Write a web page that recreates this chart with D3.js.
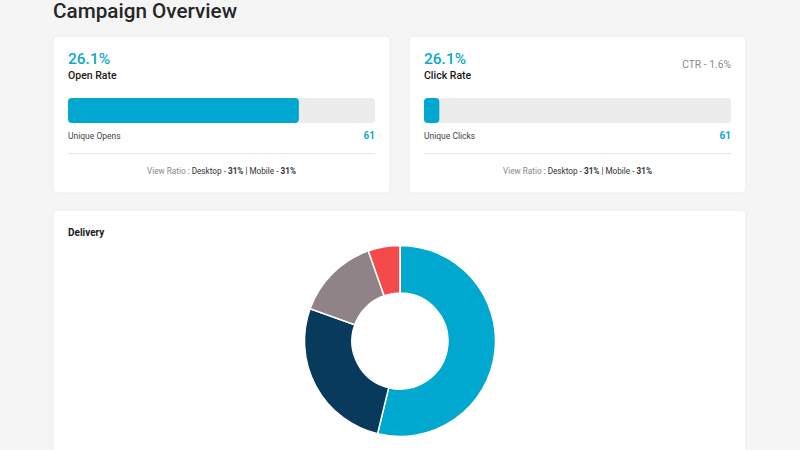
<!DOCTYPE html>
<html>
<head>
<meta charset="utf-8">
<script src="https://cdn.jsdelivr.net/npm/d3@7"></script>
<style>
  body { margin: 0; background: #f5f5f5; font-family: Roboto, "Noto Sans", sans-serif; }
</style>
</head>
<body>
<div id="chart"></div>
<script>
// card data
var cardTitles = ["Open Rate", "Click Rate"];
var cardRates = ["26.1%", "26.1%"];
var cardBars = [75.2, 5.0];          // % of bar filled
var cardCountLabels = ["Unique Opens", "Unique Clicks"];
var cardCounts = [61, 61];
var cardExtra = ["", "CTR - 1.6%"];
var desktopRatio = ["31%", "31%"];
var mobileRatio = ["31%", "31%"];

// delivery donut
var deliveryLabels = ["Delivered", "Bounced", "Deferred", "Failed"];
var deliveryValues = [54, 26.8, 14.2, 5.4];
var deliveryColors = ["#00a8cf", "#073a5b", "#8f8388", "#f44a4a"];

var width = 800, height = 450;

var svg = d3.select("#chart").append("svg")
  .attr("width", width)
  .attr("height", height)
  .style("display", "block");

svg.append("rect").attr("width", width).attr("height", height).attr("fill", "#f5f5f5");

svg.append("text")
  .attr("x", 53).attr("y", 18)
  .attr("font-size", 20.7)
  .attr("font-weight", 500)
  .attr("fill", "#262626")
  .text("Campaign Overview");

var cardW = 337, cardH = 157;
var cardX = [53, 409];

var barScale = d3.scaleLinear().domain([0, 100]).range([0, 307]);

cardTitles.forEach(function(t, i) {
  var g = svg.append("g").attr("transform", `translate(${cardX[i]}, 36)`);

  g.append("rect")
    .attr("width", cardW).attr("height", cardH)
    .attr("rx", 4)
    .attr("fill", "#fff")
    .attr("stroke", "#ececec");

  g.append("text")
    .attr("x", 15).attr("y", 28)
    .attr("font-size", 15.5).attr("font-weight", 500)
    .attr("fill", "#0ea7cc")
    .text(cardRates[i]);

  g.append("text")
    .attr("x", 15).attr("y", 43)
    .attr("font-size", 10.5).attr("font-weight", 500)
    .attr("fill", "#1a1a1a")
    .text(t);

  if (cardExtra[i]) {
    g.append("text")
      .attr("x", 322).attr("y", 32)
      .attr("text-anchor", "end")
      .attr("font-size", 10.3)
      .attr("fill", "#8a8a8a")
      .text(cardExtra[i]);
  }

  // progress bar
  g.append("rect")
    .attr("x", 15).attr("y", 62)
    .attr("width", barScale(100)).attr("height", 25)
    .attr("rx", 4)
    .attr("fill", "#ececec");
  g.append("rect")
    .attr("x", 15).attr("y", 62)
    .attr("width", barScale(cardBars[i])).attr("height", 25)
    .attr("rx", 4)
    .attr("fill", "#00a8cf");

  g.append("text")
    .attr("x", 15).attr("y", 103)
    .attr("font-size", 8.5)
    .attr("fill", "#444")
    .text(cardCountLabels[i]);

  g.append("text")
    .attr("x", 322).attr("y", 103)
    .attr("text-anchor", "end")
    .attr("font-size", 10).attr("font-weight", 700)
    .attr("fill", "#0ea7cc")
    .text(cardCounts[i]);

  g.append("line")
    .attr("x1", 15).attr("x2", 322)
    .attr("y1", 117.5).attr("y2", 117.5)
    .attr("stroke", "#e6e6e6");

  var vr = g.append("text")
    .attr("x", cardW / 2).attr("y", 138)
    .attr("text-anchor", "middle")
    .attr("font-size", 8.2)
    .attr("fill", "#333");
  vr.append("tspan").attr("fill", "#888").text("View Ratio");
  vr.append("tspan").text(" : Desktop - ");
  vr.append("tspan").attr("font-weight", 700).text(desktopRatio[i]);
  vr.append("tspan").text(" | Mobile - ");
  vr.append("tspan").attr("font-weight", 700).text(mobileRatio[i]);
});

// delivery card
var dg = svg.append("g").attr("transform", "translate(53, 210)");
dg.append("rect")
  .attr("width", 693).attr("height", 260)
  .attr("rx", 4)
  .attr("fill", "#fff")
  .attr("stroke", "#ececec");

dg.append("text")
  .attr("x", 15).attr("y", 26)
  .attr("font-size", 10).attr("font-weight", 700)
  .attr("fill", "#1a1a1a")
  .text("Delivery");

var pie = d3.pie().sort(null);
var arc = d3.arc().innerRadius(48).outerRadius(95.5);

dg.append("g")
  .attr("transform", "translate(347, 131)")
  .selectAll("path")
  .data(pie(deliveryValues))
  .enter()
  .append("path")
  .attr("d", arc)
  .attr("fill", function(d, i) { return deliveryColors[i]; })
  .attr("stroke", "#fff")
  .attr("stroke-width", 1.5);
</script>
</body>
</html>
